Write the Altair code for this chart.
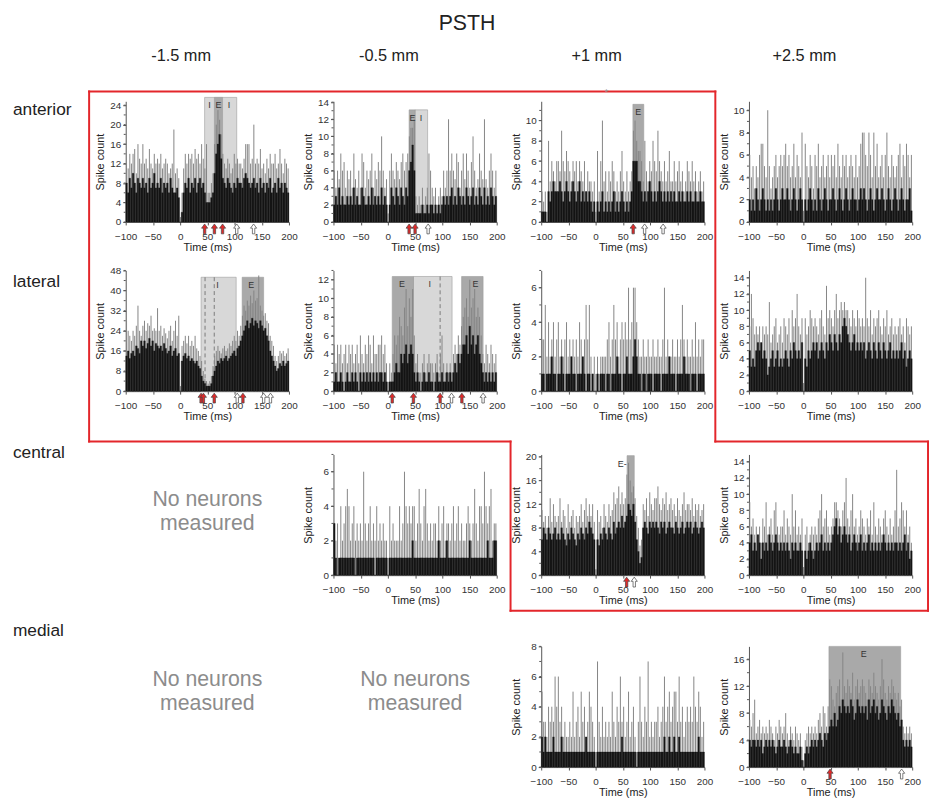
import altair as alt
import pandas as pd

FONT = "Liberation Sans"
INK = "#161616"
SPIKE = "#858585"
LIGHT = "#d8d8d8"
DARK = "#a9a9a9"
RED = "#e3262b"
ARROW_RED = "#e02a2a"
GREYTXT = "#8c8c8c"

BIN_W = 3
BIN_START = list(range(-100, 200, BIN_W))
X_TICKS = [-100, -50, 0, 50, 100, 150, 200]

TITLE = "PSTH"
COLUMNS = ["-1.5 mm", "-0.5 mm", "+1 mm", "+2.5 mm"]
ROWS = ["anterior", "lateral", "central", "medial"]
NO_NEURONS = "No neurons\nmeasured"

# ---------------- anterior, -1.5 mm ----------------
A1_LO = [8,6,9,7,10,8,6,9,8,7, 9,7,8,6,9,7,8,10,7,8, 7,9,6,8,7,8,6,9,7,6, 6,7,5,0,2,6,8,7,9,6,
         8,7,9,6,8,9,7,8,6,4, 4,4,5,6,10,14,16,18,13,9, 8,7,9,8,7,6,8,7,9,8, 8,7,9,10,9,8,7,8,9,7,
         8,6,9,7,8,6,8,7,9,6, 7,8,6,9,7,8,6,8,7,6]
A1_HI = [12,11,14,12,14,15,10,16,13,12, 16,12,13,11,15,12,11,14,12,13, 12,14,11,12,13,12,10,11,12,19,
         10,11,9,1,6,11,14,12,14,13, 14,12,15,13,14,12,16,13,11,16, 6,6,8,10,16,20,23,21,18,14,
         12,11,13,12,10,11,14,12,13,12, 12,11,13,16,16,16,12,13,20,12, 13,12,15,11,12,10,13,11,14,12,
         12,14,11,12,15,12,10,13,12,11]
A1_YMAX, A1_MAJOR, A1_TOP = 24.8, 4, 25.6
A1_REG_START, A1_REG_END, A1_REG_KIND = [45, 63], [104, 78], ["I", "E"]
A1_LAB_T, A1_LAB = [54, 70.5, 90], ["I", "E", "I"]
A1_RED, A1_WHITE = [45, 63, 78], [104, 135]

# ---------------- anterior, -0.5 mm ----------------
A2_LO = [2,3,2,4,2,3,2,2,3,2, 3,2,4,2,3,2,2,4,3,2, 2,3,2,4,2,3,2,3,2,4, 2,3,2,0,2,4,3,2,4,3,
         2,4,3,2,4,3,6,7,9,6, 1,1,1,1,2,1,1,2,1,2, 2,1,2,1,2,1,2,3,2,3, 2,3,4,2,3,2,4,3,2,3,
         2,4,3,2,3,4,2,3,2,4, 3,2,4,2,3,2,4,3,2,3]
A2_HI = [6,4,6,5,8,6,7,4,6,5, 6,4,8,5,4,6,4,8,7,4, 6,5,6,8,4,6,5,7,6,10, 6,4,5,1,6,8,6,5,7,6,
         5,7,8,6,7,8,10,11,11,12, 3,2,3,2,4,2,3,4,8,6, 4,3,4,2,3,4,3,6,4,6, 12,6,8,6,5,8,7,4,6,8,
         5,8,6,4,7,10,6,4,5,8, 6,5,12,5,4,6,8,6,4,6]
A2_YMAX, A2_MAJOR, A2_TOP = 14.1, 2, 13.1
A2_REG_START, A2_REG_END, A2_REG_KIND = [50, 39], [73, 50], ["I", "E"]
A2_LAB_T, A2_LAB = [45, 61], ["E", "I"]
A2_RED, A2_WHITE = [39, 50], [74]

# ---------------- anterior, +1 mm ----------------
A3_LO = [1,1,1,0,3,2,3,4,3,3, 3,4,3,2,3,4,3,2,3,4, 3,2,3,4,2,3,2,3,2,3, 2,1,2,0,2,1,2,3,1,2,
         1,2,1,2,3,1,2,1,2,3, 2,1,2,1,2,3,6,6,6,4, 4,3,2,3,2,3,4,3,2,3, 2,3,4,3,2,3,2,3,2,3,
         2,3,2,2,3,2,3,2,2,3, 2,3,2,2,3,2,2,3,2,2]
A3_HI = [3,2,3,1,8,4,6,5,4,6, 6,5,9,6,5,7,6,5,4,6, 5,6,4,6,5,4,6,3,5,4, 4,3,4,1,7,3,6,10,4,5,
         3,5,4,6,5,3,4,3,5,7, 4,3,5,3,4,5,9,10,8,7, 7,6,4,8,5,4,6,5,8,6, 5,9,6,5,4,6,4,5,7,4,
         4,6,4,5,6,4,5,3,4,6, 5,4,6,4,5,3,4,5,3,4]
A3_YMAX, A3_MAJOR, A3_TOP = 11.9, 2, 11.6
A3_REG_START, A3_REG_END, A3_REG_KIND = [68.5], [88.5], ["E"]
A3_LAB_T, A3_LAB = [78.5], ["E"]
A3_RED, A3_WHITE = [69], [90, 124]

# ---------------- anterior, +2.5 mm ----------------
A4_LO = [2,1,2,1,3,2,1,2,3,2, 1,2,1,2,1,2,3,2,1,2, 3,2,2,3,2,1,2,3,2,1, 2,3,2,0,2,1,2,3,2,1,
         2,1,3,2,1,2,3,2,1,2, 2,3,2,1,2,3,2,1,2,3, 2,1,2,3,2,2,1,2,3,2, 3,2,1,2,3,2,1,2,3,2,
         2,3,2,1,2,3,2,1,2,3, 2,1,2,3,2,1,2,2,3,1]
A4_HI = [6,4,5,3,5,4,6,7,7,5, 4,10,5,3,4,5,6,4,5,6, 5,6,7,5,6,4,5,7,4,6, 5,4,8,1,7,5,4,6,5,3,
         6,5,7,4,5,6,4,5,6,4, 6,5,6,4,7,5,4,6,5,6, 4,5,6,5,4,6,4,5,7,8, 8,6,5,8,6,4,8,5,7,4,
         5,6,4,6,8,5,4,6,5,4, 5,6,7,4,6,5,7,6,4,6]
A4_YMAX, A4_MAJOR = 10.8, 2

# ---------------- lateral, -1.5 mm ----------------
L1_LO = [14,16,13,15,16,14,18,17,15,20, 18,20,17,19,21,18,20,16,19,18, 17,18,16,19,17,15,16,18,14,16,
         17,14,15,0,12,14,15,13,14,12, 13,12,11,12,10,9,6,4,3,2, 2,2,3,6,8,10,12,11,13,12,
         13,14,12,13,14,15,16,14,17,18, 20,22,24,26,28,25,27,29,26,28, 27,25,28,26,24,25,22,20,16,14,
         12,10,8,9,11,10,12,10,11,12]
L1_HI = [28,24,22,20,24,22,26,34,24,22, 26,28,24,27,26,30,24,25,24,33, 24,26,22,25,23,21,24,26,20,24,
         28,22,30,2,18,20,22,19,22,18, 20,18,22,17,16,14,12,8,5,4, 3,4,6,10,14,16,18,16,15,17,
         18,16,17,19,18,20,22,20,24,22, 26,30,34,32,36,34,38,35,40,36, 37,46,34,32,30,31,28,27,22,20,
         18,14,12,14,16,15,16,14,15,17]
L1_YMAX, L1_MAJOR, L1_TOP = 48, 8, 45.3
L1_REG_START, L1_REG_END, L1_REG_KIND = [38.5, 114], [103, 153.5], ["I", "E"]
L1_LAB_T, L1_LAB = [68.8, 130.5], ["I", "E"]
L1_DASH = [45.8, 62.7]
L1_RED, L1_WHITE = [38.5, 42.8, 62.7, 115.4], [105, 153.5, 166]

# ---------------- lateral, -0.5 mm ----------------
L2_LO = [1,2,1,1,2,1,0,1,2,1, 1,2,1,2,1,0,2,1,2,1, 2,1,2,1,2,1,2,1,2,2, 1,2,1,0,1,1,1,2,3,2,
         2,4,3,4,5,3,4,5,4,2, 1,2,1,0,1,2,1,1,2,1, 1,0,1,2,1,1,2,1,1,2, 1,2,1,2,3,2,4,3,4,5,
         5,6,4,7,5,6,4,5,6,4, 3,2,1,2,1,2,1,2,1,2]
L2_HI = [5,3,5,4,5,3,4,5,3,5, 4,5,3,4,5,3,6,4,3,5, 4,6,5,3,6,4,4,5,5,6, 4,5,3,1,3,2,4,6,5,6,
         8,7,6,9,11,7,10,8,11,6, 3,4,2,2,3,4,2,3,4,3, 3,2,3,4,2,4,6,3,2,3, 2,3,2,4,5,4,6,5,7,8,
         9,10,8,12,9,10,11,8,9,8, 6,4,3,5,4,3,5,4,3,4]
L2_YMAX, L2_MAJOR, L2_TOP = 13.0, 2, 12.35
L2_REG_START, L2_REG_END, L2_REG_KIND = [47, 8, 135.5], [118, 47, 175], ["I", "E", "E"]
L2_LAB_T, L2_LAB = [25.7, 77, 161], ["E", "I", "E"]
L2_DASH = [96]
L2_RED, L2_WHITE = [8, 47, 96, 136], [117, 175]

# ---------------- lateral, +1 mm ----------------
L3_LO = [1,1,0,1,1,1,2,1,1,0, 1,1,2,1,0,1,1,1,2,1, 1,0,1,1,1,2,1,0,1,1, 0,1,0,0,1,0,1,1,1,0,
         1,1,0,1,1,1,2,1,1,0, 1,1,2,1,1,1,2,3,2,1, 1,0,1,1,0,1,1,1,0,1, 1,1,1,0,1,1,1,1,2,1,
         1,1,0,1,1,1,1,2,1,1, 1,0,1,1,1,0,1,1,1,1]
L3_HI = [3,3,5,2,4,2,3,4,2,3, 4,2,3,2,3,4,2,3,2,3, 2,3,2,4,3,2,3,5,3,5, 2,1,2,1,2,1,2,2,2,2,
         3,4,2,3,5,3,4,2,3,4, 3,4,3,6,3,4,6,6,4,3, 2,2,3,2,2,3,2,2,3,2, 2,3,2,2,3,6,2,3,2,2,
         3,2,2,3,2,3,5,3,2,3, 2,2,3,2,4,2,3,2,3,3]
L3_YMAX, L3_MAJOR = 7.0, 2

# ---------------- lateral, +2.5 mm ----------------
L4_LO = [5,3,4,3,5,6,5,6,4,5, 4,2,3,4,5,3,4,5,3,4, 3,4,5,4,3,5,4,6,5,4, 5,4,6,0,4,3,5,4,5,6,
         5,6,4,5,6,5,4,6,5,7, 6,5,7,6,5,7,6,8,9,8, 7,6,5,6,7,5,6,5,6,5, 6,4,5,6,5,4,6,5,4,6,
         5,4,6,5,4,5,6,4,5,4, 5,4,5,6,4,5,3,4,5,4]
L4_HI = [8,12,9,7,8,7,8,6,8,7, 8,7,11,6,7,8,9,6,7,8, 6,9,8,7,9,6,10,8,9,12, 8,7,9,1,9,7,8,10,9,8,
         9,8,7,9,10,8,7,13,9,10, 9,8,10,12,9,10,11,10,11,10, 10,9,8,10,9,8,10,9,8,9, 8,14,9,8,10,7,9,8,9,10,
         8,7,9,8,10,7,8,9,7,8, 7,8,9,7,8,6,9,8,7,8]
L4_YMAX, L4_MAJOR = 14.9, 2

# ---------------- central, -0.5 mm ----------------
C2_LO = [3,1,0,1,1,1,1,1,1,1, 1,1,1,0,1,1,1,1,1,1, 1,1,1,1,1,0,1,1,1,1, 1,1,1,0,1,1,1,1,1,1,
         1,1,1,1,1,1,1,1,2,1, 1,1,1,1,1,1,1,1,1,1, 1,1,1,1,2,1,1,1,1,2, 1,1,1,1,1,1,1,1,1,1,
         1,1,1,2,1,1,1,1,1,1, 1,1,1,1,2,1,1,1,2,2]
C2_HI = [3,2,3,1,4,2,3,4,5,4, 2,3,4,2,3,2,3,2,6,3, 2,3,4,2,3,2,4,2,3,2, 3,2,2,1,4,2,3,2,2,2,
         4,2,3,6,4,3,4,3,4,4, 2,3,5,3,2,4,5,3,2,3, 2,3,3,2,4,2,3,4,2,3, 3,2,3,4,2,3,4,2,3,2,
         2,3,4,3,2,3,5,3,2,4, 4,3,6,4,3,4,5,2,3,3]
C2_YMAX, C2_MAJOR = 7.0, 2

# ---------------- central, +1 mm ----------------
C3_LO = [6,8,7,6,8,7,6,7,8,6, 7,6,8,7,6,5,7,6,8,7, 6,5,7,6,8,7,6,8,7,9, 8,7,6,0,6,5,7,6,8,7,
         6,8,7,6,9,7,8,9,8,10, 8,9,10,12,11,10,12,9,6,4, 2,3,8,9,8,7,9,8,9,8, 9,8,7,9,8,9,7,8,9,8,
         8,7,9,8,7,8,9,7,8,9, 8,9,7,8,9,8,7,8,9,8]
C3_HI = [11,9,10,8,10,13,9,12,10,9, 10,13,9,11,10,8,12,9,10,11, 8,10,9,10,12,9,11,13,10,12,
         10,12,9,1,11,9,10,8,12,10, 9,12,10,11,14,12,13,15,12,14, 12,13,17,19,16,14,15,13,10,8,
         5,6,12,11,13,10,14,12,11,13, 13,15,12,11,13,12,14,11,12,13, 11,12,10,13,11,10,12,14,11,12,
         12,11,13,10,12,11,12,10,11,12]
C3_YMAX, C3_MAJOR, C3_TOP = 20.4, 4, 20.2
C3_REG_START, C3_REG_END, C3_REG_KIND = [57.8], [71], ["E"]
C3_LAB_T, C3_LAB = [49], ["E-"]
C3_RED, C3_WHITE = [57], [71]

# ---------------- central, +2.5 mm ----------------
C4_LO = [4,5,3,4,3,5,4,2,4,3, 4,3,5,4,3,4,5,4,3,4, 3,4,3,4,3,2,4,3,4,3, 3,4,3,0,3,2,3,4,3,2,
         3,4,3,4,5,3,4,3,4,3, 4,5,6,7,5,6,4,5,6,5, 4,5,3,4,5,4,3,4,5,3, 4,3,4,5,3,4,3,4,3,4,
         3,4,5,4,3,4,3,4,3,4, 4,3,4,3,4,5,3,4,2,3]
C4_HI = [9,6,7,5,6,5,6,4,7,6, 9,5,6,7,5,8,9,6,5,6, 6,8,5,7,6,5,10,6,8,5, 6,5,7,1,5,6,4,5,6,5,
         6,5,7,8,10,6,7,8,6,5, 6,7,9,9,8,7,6,8,9,12, 7,6,8,10,6,7,5,6,8,7, 6,5,7,6,8,5,9,6,5,7,
         6,5,7,8,6,5,7,5,6,8, 13,6,7,9,8,6,8,5,6,4]
C4_YMAX, C4_MAJOR = 14.9, 2

# ---------------- medial, +1 mm ----------------
M3_LO = [2,1,2,1,1,1,1,2,1,1, 1,1,2,1,1,1,1,1,1,1, 1,1,1,1,1,1,1,2,1,1, 1,1,1,0,1,1,1,1,1,1,
         1,1,1,1,1,1,1,1,1,2, 1,1,1,1,1,1,1,1,0,1, 1,1,1,1,1,1,1,1,1,1, 1,1,1,1,1,2,1,1,2,1,
         1,2,1,1,2,1,1,1,1,1, 1,1,1,1,1,1,2,1,1,1]
M3_HI = [5,3,3,2,4,3,4,3,6,4, 6,3,4,2,3,2,2,3,2,5, 2,3,4,2,5,3,4,2,3,5, 4,3,2,1,7,3,2,4,2,3,
         2,3,2,5,3,2,4,3,6,3, 4,2,3,5,2,3,4,2,1,3, 6,3,2,4,3,7,2,3,2,3, 3,4,2,3,4,6,3,4,5,3,
         4,5,5,3,6,3,4,2,3,4, 3,4,3,6,4,3,5,4,2,3]
M3_YMAX, M3_MAJOR = 8.0, 2

# ---------------- medial, +2.5 mm ----------------
M4_LO = [4,3,4,4,3,4,3,4,2,3, 4,3,4,3,4,3,2,3,4,3, 3,4,3,2,3,4,3,2,3,2, 2,3,1,0,2,3,2,3,4,3,
         4,3,4,5,4,3,5,4,5,6, 7,6,8,6,7,9,8,10,9,8, 9,8,10,9,7,8,10,9,8,9, 8,9,7,10,8,9,10,8,9,7,
         8,10,9,8,7,9,8,10,9,8, 7,8,6,7,4,3,4,3,4,3]
M4_HI = [7,6,8,10,5,6,7,5,6,5, 6,5,7,6,5,4,6,5,7,6, 5,6,8,5,4,6,5,4,6,5, 4,5,3,1,4,5,6,5,6,5,
         6,5,7,8,6,9,8,6,9,13, 12,10,9,11,12,13,10,17,12,11, 13,12,11,14,10,12,13,11,12,13,
         12,11,10,13,12,11,14,12,11,10, 12,16,13,11,10,12,11,13,12,11, 10,11,9,10,6,5,6,5,6,5]
M4_YMAX, M4_MAJOR, M4_TOP = 17.9, 4, 17.9
M4_REG_START, M4_REG_END, M4_REG_KIND = [47], [178.8], ["E"]
M4_LAB_T, M4_LAB = [111], ["E"]
M4_RED, M4_WHITE = [49], [180.6]

for _arr in [A1_LO, A1_HI, A2_LO, A2_HI, A3_LO, A3_HI, A4_LO, A4_HI, L1_LO, L1_HI, L2_LO, L2_HI,
             L3_LO, L3_HI, L4_LO, L4_HI, C2_LO, C2_HI, C3_LO, C3_HI, C4_LO, C4_HI, M3_LO, M3_HI,
             M4_LO, M4_HI]:
    assert len(_arr) == len(BIN_START), len(_arr)

# ---------------- layout ----------------
PW, PH = 165, 122
LABEL_W = 71
COL_GAP = 45
HEADER_H = 90
GAPS = [49, 64, 72]

XS = alt.Scale(domain=[-100, 200], nice=False, zero=False)
ARROW = "M0,-1L0.62,-0.15L0.24,-0.15L0.24,1L-0.24,1L-0.24,-0.15L-0.62,-0.15Z"
ONE = pd.DataFrame({"k": [0]})


def y_ticks(ymax, step):
    vals = []
    k = 0
    while k * step <= ymax + 1e-9:
        vals.append(k * step)
        k += 1
    return vals


def y_axis(ymax, major):
    return alt.Axis(values=y_ticks(ymax, major), title="Spike count", tickSize=3,
                    labelOverlap=False, labelPadding=2,
                    titleX=-20, titleY=PH / 2, titleAngle=-90, titleBaseline="bottom", titleAlign="center")


def x_axis():
    return alt.Axis(values=X_TICKS, title="Time (ms)", labelFlush=False, labelOverlap=False,
                    tickSize=3, labelPadding=7, titlePadding=0)


def panel(lo, hi, ymax, major, top=None, reg=None, labs=None, dashes=None, red=None, white=None):
    ys = alt.Scale(domain=[0, ymax], nice=False, zero=True)
    YA = y_axis(ymax, major)

    def X(f):
        return alt.X(f, type="quantitative", scale=XS, axis=x_axis())

    def Y(f):
        return alt.Y(f, type="quantitative", scale=ys, axis=YA)

    df = pd.DataFrame({"t": BIN_START, "t2": [t + BIN_W for t in BIN_START],
                       "tc": [t + BIN_W / 2 for t in BIN_START], "lo": lo, "hi": hi})
    layers = []
    if reg:
        rdf = pd.DataFrame({"start": reg[0], "end": reg[1], "kind": reg[2], "top": [top] * len(reg[0])})
        layers.append(alt.Chart(rdf).mark_rect(stroke="#9c9c9c", strokeWidth=0.6).encode(
            x=X("start"), x2="end", y=Y("top"), y2=alt.datum(0),
            color=alt.Color("kind:N", scale=alt.Scale(domain=["I", "E"], range=[LIGHT, DARK]), legend=None)))
    if dashes:
        ddf = pd.DataFrame({"t": dashes, "top": [top] * len(dashes)})
        layers.append(alt.Chart(ddf).mark_rule(color="#7a7a7a", strokeWidth=1, strokeDash=[4, 3]).encode(
            x=X("t"), y=Y("top"), y2=alt.datum(0)))
    layers.append(alt.Chart(df).mark_rule(color=SPIKE, strokeWidth=1).encode(
        x=X("tc"), y=Y("hi"), y2=alt.datum(0)))
    layers.append(alt.Chart(df).mark_rect(color=INK, stroke=INK, strokeWidth=0.3).encode(
        x=X("t"), x2="t2", y=Y("lo"), y2=alt.datum(0)))
    # minor ticks on the y axis
    mdf = pd.DataFrame({"v": y_ticks(ymax, major / 2)})
    layers.append(alt.Chart(mdf).mark_rule(color="#555", strokeWidth=1).encode(
        x=alt.value(-2), x2=alt.value(0), y=Y("v")))
    if labs:
        ldf = pd.DataFrame({"t": labs[0], "label": labs[1], "top": [top] * len(labs[0])})
        layers.append(alt.Chart(ldf).mark_text(font=FONT, fontSize=9, color="#333", baseline="middle", dy=8).encode(
            x=X("t"), y=Y("top"), text="label:N"))
    if red or white:
        red = red or []
        white = white or []
        adf = pd.DataFrame({"t": red + white, "kind": ["red"] * len(red) + ["white"] * len(white)})
        layers.append(alt.Chart(adf).mark_point(shape=ARROW, filled=True, size=100, opacity=1,
                                                stroke="#444", strokeWidth=0.7).encode(
            x=X("t"), y=alt.value(PH + 7),
            fill=alt.Fill("kind:N", scale=alt.Scale(domain=["red", "white"], range=[ARROW_RED, "#ffffff"]),
                          legend=None)))
    return alt.layer(*layers).properties(width=PW, height=PH)


def text_layer(s, x, y, size, color="#222", align="left", lh=None):
    kw = dict(font=FONT, fontSize=size, color=color, align=align, baseline="middle", x=x, y=y)
    if lh:
        kw.update(lineBreak="\n", lineHeight=lh)
    return alt.Chart(pd.DataFrame({"s": [s]})).mark_text(**kw).encode(text="s:N")


def cell(w, h, layers):
    return alt.layer(*layers).properties(width=w, height=h)


def spacer(h):
    return alt.Chart(ONE).mark_point(x=0, y=0).encode(opacity=alt.value(0)).properties(width=1, height=h)


# red outline (pixel offsets relative to the "anterior" label cell)
OUTLINE = [(79, -10), (712, -10), (712, 344), (927, 344), (927, 515), (505, 515), (505, 344), (79, 344)]


def outline_layers():
    out = []
    n = len(OUTLINE)
    for i in range(n):
        (x1, y1), (x2, y2) = OUTLINE[i], OUTLINE[(i + 1) % n]
        out.append(alt.Chart(ONE).mark_rule(color=RED, strokeWidth=2, strokeCap="square").encode(
            x=alt.value(x1), x2=alt.value(x2), y=alt.value(y1), y2=alt.value(y2)))
    out.append(text_layer("*", 602, -9, 10, "#9a9a9a", "center"))
    return out


def no_neurons(yc):
    return cell(PW, PH, [text_layer(NO_NEURONS, PW / 2, yc, 21.5, GREYTXT, "center", 24)])


cells = []
# header row
cells.append(cell(LABEL_W, HEADER_H, [text_layer(TITLE, 461, 12, 21.5, "#222", "center")]))
for c in COLUMNS:
    cells.append(cell(PW, HEADER_H, [text_layer(c, 56, 44, 16.5, "#222", "center")]))

# anterior
cells.append(cell(LABEL_W, PH, outline_layers() + [text_layer(ROWS[0], 2, 9, 17.5)]))
cells.append(panel(A1_LO, A1_HI, A1_YMAX, A1_MAJOR, A1_TOP, (A1_REG_START, A1_REG_END, A1_REG_KIND),
                   (A1_LAB_T, A1_LAB), None, A1_RED, A1_WHITE))
cells.append(panel(A2_LO, A2_HI, A2_YMAX, A2_MAJOR, A2_TOP, (A2_REG_START, A2_REG_END, A2_REG_KIND),
                   (A2_LAB_T, A2_LAB), None, A2_RED, A2_WHITE))
cells.append(panel(A3_LO, A3_HI, A3_YMAX, A3_MAJOR, A3_TOP, (A3_REG_START, A3_REG_END, A3_REG_KIND),
                   (A3_LAB_T, A3_LAB), None, A3_RED, A3_WHITE))
cells.append(panel(A4_LO, A4_HI, A4_YMAX, A4_MAJOR))
cells += [spacer(GAPS[0]) for _ in range(5)]

# lateral
cells.append(cell(LABEL_W, PH, [text_layer(ROWS[1], 2, 12, 17.5)]))
cells.append(panel(L1_LO, L1_HI, L1_YMAX, L1_MAJOR, L1_TOP, (L1_REG_START, L1_REG_END, L1_REG_KIND),
                   (L1_LAB_T, L1_LAB), L1_DASH, L1_RED, L1_WHITE))
cells.append(panel(L2_LO, L2_HI, L2_YMAX, L2_MAJOR, L2_TOP, (L2_REG_START, L2_REG_END, L2_REG_KIND),
                   (L2_LAB_T, L2_LAB), L2_DASH, L2_RED, L2_WHITE))
cells.append(panel(L3_LO, L3_HI, L3_YMAX, L3_MAJOR))
cells.append(panel(L4_LO, L4_HI, L4_YMAX, L4_MAJOR))
cells += [spacer(GAPS[1]) for _ in range(5)]

# central
cells.append(cell(LABEL_W, PH, [text_layer(ROWS[2], 2, -1, 17.5)]))
cells.append(no_neurons(46))
cells.append(panel(C2_LO, C2_HI, C2_YMAX, C2_MAJOR))
cells.append(panel(C3_LO, C3_HI, C3_YMAX, C3_MAJOR, C3_TOP, (C3_REG_START, C3_REG_END, C3_REG_KIND),
                   (C3_LAB_T, C3_LAB), None, C3_RED, C3_WHITE))
cells.append(panel(C4_LO, C4_HI, C4_YMAX, C4_MAJOR))
cells += [spacer(GAPS[2]) for _ in range(5)]

# medial
cells.append(cell(LABEL_W, PH, [text_layer(ROWS[3], 2, -15, 17.5)]))
cells.append(no_neurons(34))
cells.append(no_neurons(34))
cells.append(panel(M3_LO, M3_HI, M3_YMAX, M3_MAJOR))
cells.append(panel(M4_LO, M4_HI, M4_YMAX, M4_MAJOR, M4_TOP, (M4_REG_START, M4_REG_END, M4_REG_KIND),
                   (M4_LAB_T, M4_LAB), None, M4_RED, M4_WHITE))

chart = alt.concat(*cells, columns=5, spacing={"row": 0, "column": COL_GAP},
                   bounds="flush", align="each").properties(padding=0)
chart = chart.configure_view(stroke=None).configure_axis(
    labelFont=FONT, titleFont=FONT, labelFontSize=10, titleFontSize=11, titleFontWeight="normal",
    labelColor="#333", titleColor="#222", domainColor="#555", tickColor="#555", grid=False)

chart.save("out.html", embed_options={"renderer": "svg", "actions": False})
